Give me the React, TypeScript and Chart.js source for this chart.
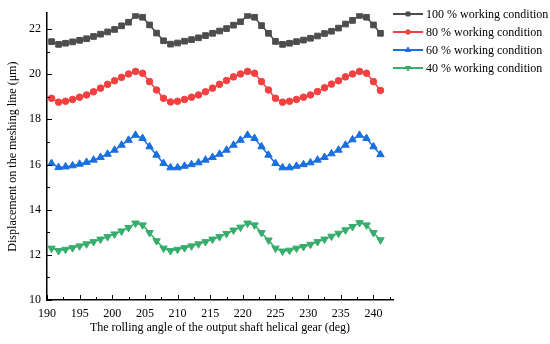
import { useEffect, useRef } from 'react';
import { Chart, registerables } from 'chart.js';
import { drawPoint } from 'chart.js/helpers';

Chart.register(...registerables);

// Rolling angle of the output shaft helical gear (deg)
const angles = [
  190.7, 191.77, 192.84, 193.92, 194.99, 196.06, 197.13, 198.2, 199.28, 200.35,
  201.42, 202.49, 203.56, 204.64, 205.71, 206.78, 207.85, 208.92, 210.0, 211.07,
  212.14, 213.21, 214.28, 215.36, 216.43, 217.5, 218.57, 219.64, 220.72, 221.79,
  222.86, 223.93, 225.0, 226.08, 227.15, 228.22, 229.29, 230.36, 231.44, 232.51,
  233.58, 234.65, 235.72, 236.8, 237.87, 238.94, 240.01, 241.08,
];

const load100 = [
  21.44, 21.32, 21.37, 21.43, 21.5, 21.57, 21.67, 21.77, 21.87, 21.98,
  22.14, 22.3, 22.6, 22.52, 22.18, 21.82, 21.48, 21.33, 21.38, 21.46,
  21.53, 21.61, 21.71, 21.81, 21.91, 22.02, 22.17, 22.32, 22.6, 22.52,
  22.15, 21.81, 21.45, 21.32, 21.37, 21.44, 21.51, 21.59, 21.69, 21.8,
  21.9, 22.04, 22.22, 22.38, 22.6, 22.52, 22.18, 21.81,
];

const load80 = [
  18.93, 18.76, 18.8, 18.88, 18.98, 19.08, 19.22, 19.38, 19.55, 19.71,
  19.86, 20.01, 20.12, 20.04, 19.67, 19.3, 18.93, 18.77, 18.8, 18.88,
  18.98, 19.08, 19.22, 19.38, 19.55, 19.72, 19.88, 20.01, 20.12, 20.04,
  19.67, 19.3, 18.93, 18.76, 18.8, 18.88, 18.98, 19.08, 19.23, 19.4,
  19.56, 19.71, 19.88, 20.01, 20.12, 20.04, 19.67, 19.28,
];

const load60 = [
  16.05, 15.87, 15.9, 15.95, 16.02, 16.1, 16.2, 16.32, 16.46, 16.64,
  16.86, 17.08, 17.3, 17.16, 16.79, 16.42, 16.05, 15.86, 15.86, 15.93,
  16.0, 16.08, 16.2, 16.32, 16.46, 16.64, 16.86, 17.08, 17.3, 17.16,
  16.79, 16.42, 16.05, 15.86, 15.86, 15.93, 16.0, 16.08, 16.2, 16.32,
  16.48, 16.64, 16.86, 17.1, 17.3, 17.16, 16.79, 16.44,
];

const load40 = [
  12.29, 12.18, 12.24, 12.31, 12.39, 12.48, 12.58, 12.69, 12.8, 12.92,
  13.05, 13.2, 13.4, 13.32, 12.98, 12.62, 12.29, 12.18, 12.24, 12.31,
  12.39, 12.48, 12.58, 12.69, 12.8, 12.94, 13.09, 13.22, 13.4, 13.32,
  12.98, 12.65, 12.29, 12.16, 12.2, 12.29, 12.36, 12.46, 12.58, 12.69,
  12.82, 12.95, 13.1, 13.25, 13.42, 13.32, 12.98, 12.66,
];

const seriesLabels = [
  '100 % working condition',
  '80 % working condition',
  '60 % working condition',
  '40 % working condition',
];

const xMajorTicks = [190, 195, 200, 205, 210, 215, 220, 225, 230, 235, 240];
const xMinorTicks = [192.5, 197.5, 202.5, 207.5, 212.5, 217.5, 222.5, 227.5, 232.5, 237.5, 242.5];
const yMajorTicks = [10, 12, 14, 16, 18, 20, 22];
const yMinorTicks = [11, 13, 15, 17, 19, 21];

const FONT = '"Liberation Serif", "Times New Roman", serif';

const toPoints = (vals: number[]) => vals.map((v, i) => ({ x: angles[i], y: v }));

const innerTicksPlugin = {
  id: 'innerTicks',
  afterDraw(chart: any) {
    const { ctx, chartArea } = chart;
    const xs = chart.scales.x;
    const ys = chart.scales.y;
    ctx.save();
    ctx.strokeStyle = '#000';
    ctx.lineWidth = 1;
    ctx.beginPath();
    const drawX = (v: number, len: number) => {
      const px = Math.round(xs.getPixelForValue(v)) + 0.5;
      ctx.moveTo(px, chartArea.bottom);
      ctx.lineTo(px, chartArea.bottom - len);
    };
    const drawY = (v: number, len: number) => {
      const py = Math.round(ys.getPixelForValue(v)) + 0.5;
      ctx.moveTo(chartArea.left, py);
      ctx.lineTo(chartArea.left + len, py);
    };
    xMajorTicks.forEach((v) => drawX(v, 5));
    xMinorTicks.forEach((v) => drawX(v, 3));
    yMajorTicks.forEach((v) => drawY(v, 5));
    yMinorTicks.forEach((v) => drawY(v, 3));
    ctx.stroke();
    ctx.restore();
  },
};

const customLegendPlugin = {
  id: 'customLegend',
  afterDraw(chart: any) {
    const { ctx } = chart;
    ctx.save();
    chart.data.datasets.forEach((ds: any, i: number) => {
      const y = 14 + i * 18;
      ctx.strokeStyle = ds.borderColor;
      ctx.lineWidth = 2;
      ctx.beginPath();
      ctx.moveTo(393, y);
      ctx.lineTo(423, y);
      ctx.stroke();
      ctx.fillStyle = ds.pointBackgroundColor;
      ctx.strokeStyle = ds.pointBorderColor;
      ctx.lineWidth = 1;
      drawPoint(ctx, { pointStyle: ds.pointStyle, radius: ds.legendRadius, rotation: ds.pointRotation || 0, borderWidth: 1 }, 408, y);
      ctx.fillStyle = '#000';
      ctx.font = '12px ' + FONT;
      ctx.textBaseline = 'middle';
      ctx.textAlign = 'left';
      ctx.fillText(ds.label, 426, y + 0.5);
    });
    ctx.restore();
  },
};

export default function App() {
  const canvasRef = useRef<HTMLCanvasElement>(null);

  useEffect(() => {
    if (!canvasRef.current) return;
    Chart.defaults.font.family = FONT;
    Chart.defaults.color = '#000';
    const mk = (label: string, vals: number[], color: string, style: string, radius: number, legendRadius: number, rotation = 0) => ({
      label,
      data: toPoints(vals),
      borderColor: color,
      backgroundColor: color,
      pointBackgroundColor: color,
      pointBorderColor: color,
      pointStyle: style,
      pointRadius: radius,
      pointRotation: rotation,
      pointBorderWidth: 1,
      borderWidth: 1.5,
      legendRadius,
      tension: 0,
      fill: false,
    });
    const chart = new Chart(canvasRef.current, {
      type: 'line',
      data: {
        datasets: [
          mk(seriesLabels[0], load100, '#4d4d4d', 'rect', 4, 2.8),
          mk(seriesLabels[1], load80, '#F14040', 'circle', 3.3, 2.3),
          mk(seriesLabels[2], load60, '#1A6FDF', 'triangle', 4.3, 3),
          mk(seriesLabels[3], load40, '#37AD6B', 'triangle', 4.3, 3, 180),
        ] as any,
      },
      options: {
        animation: false,
        responsive: false,
        devicePixelRatio: 1,
        layout: { padding: { left: 0, top: 13, right: 157, bottom: 0 } },
        plugins: {
          legend: { display: false },
          tooltip: { enabled: false },
        },
        scales: {
          x: {
            type: 'linear',
            min: 190,
            max: 243,
            grid: { display: false, drawTicks: false },
            border: { display: true, color: '#000', width: 1.5 },
            ticks: { font: { size: 12, family: FONT }, color: '#000', padding: 7, maxRotation: 0 },
            afterBuildTicks: (s: any) => { s.ticks = xMajorTicks.map((v) => ({ value: v })); },
            afterFit: (s: any) => { s.height = 44; },
            title: {
              display: true,
              text: 'The rolling angle of the output shaft helical gear (deg)',
              font: { size: 12, family: FONT },
              color: '#000',
              padding: { top: 0, bottom: 9 },
            },
          },
          y: {
            type: 'linear',
            min: 10,
            max: 22.7,
            grid: { display: false, drawTicks: false },
            border: { display: true, color: '#000', width: 1.5 },
            ticks: { font: { size: 12, family: FONT }, color: '#000', padding: 6 },
            afterBuildTicks: (s: any) => { s.ticks = yMajorTicks.map((v) => ({ value: v })); },
            afterFit: (s: any) => { s.width = 47; },
            title: {
              display: true,
              text: 'Displacement on the meshing line (μm)',
              font: { size: 12, family: FONT },
              color: '#000',
              padding: { top: 6, bottom: 0 },
            },
          },
        },
      } as any,
      plugins: [innerTicksPlugin, customLegendPlugin],
    });
    return () => chart.destroy();
  }, []);

  return (
    <div style={{ position: 'absolute', left: 0, top: 0, width: 550, height: 344, background: '#fff' }}>
      <canvas ref={canvasRef} width={550} height={344} style={{ width: 550, height: 344 }} />
    </div>
  );
}
